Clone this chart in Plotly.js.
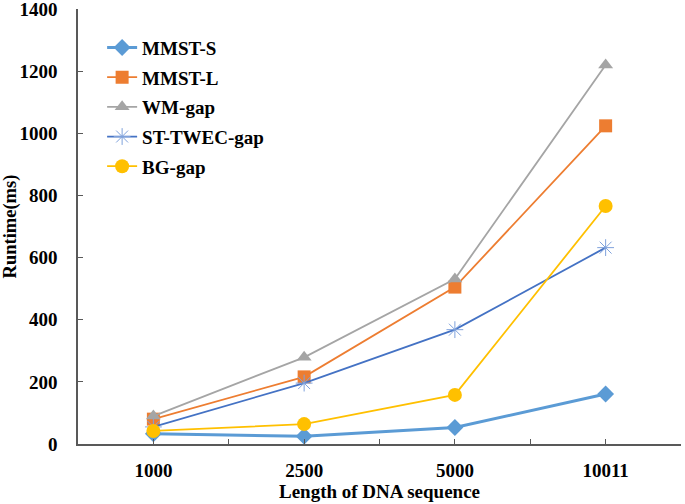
<!DOCTYPE html>
<html><head><meta charset="utf-8">
<script src="https://cdn.plot.ly/plotly-3.0.1.min.js"></script>
<style>body{margin:0;background:#fff}#c{width:685px;height:504px}</style>
</head><body><div id="c"></div>
<script>
const categories = ["1000", "2500", "5000", "10011"];
const mmstS = [33, 25, 53, 161];
const mmstL = [80, 216, 505, 1024];
const wmGap = [90, 279, 531, 1220];
const stTwecGap = [55, 196, 368, 632];
const bgGap = [42, 64, 158, 766];
const yTicks = [0, 200, 400, 600, 800, 1000, 1200, 1400];

const F = "Liberation Serif, Times New Roman, serif";
function tr(name, y, color, sym, msize, lw, mcolor) {
  return {x: categories, y: y, name: name, legendgroup: name, type: "scatter", mode: "lines+markers",
    line: {color: color, width: lw},
    marker: {symbol: sym, size: msize, color: mcolor || color,
      line: {color: mcolor || color, width: sym.indexOf("open") >= 0 ? 1 : 0}}};
}
const data = [
  tr("MMST-S", mmstS, "#5B9BD5", "diamond", 13, 3),
  tr("MMST-L", mmstL, "#ED7D31", "square", 13, 1.8),
  tr("WM-gap", wmGap, "#A5A5A5", "triangle-up", 13, 1.8),
  tr("ST-TWEC-gap", stTwecGap, "#4472C4", "asterisk-open", 14, 1.8, "#7FA2DC"),
  tr("BG-gap", bgGap, "#FFC000", "circle", 14, 1.8)
];
const layout = {
  width: 685, height: 504,
  margin: {l: 78, r: 4, t: 9, b: 60},
  paper_bgcolor: "#fff", plot_bgcolor: "#fff",
  font: {family: F, color: "#000", size: 19},
  showlegend: true,
  legend: {x: 0.04, y: 0.955, xanchor: "left", yanchor: "top", bgcolor: "rgba(0,0,0,0)",
    traceorder: "grouped", tracegroupgap: 2,
    font: {family: F, size: 19, color: "#000", weight: "bold"}, itemwidth: 30},
  xaxis: {type: "category", categoryorder: "array", categoryarray: categories,
    range: [-0.5, 3.5], showline: true, linecolor: "#595959", linewidth: 1.5,
    ticks: "inside", ticklen: 5, tickcolor: "#595959", showgrid: false, zeroline: false,
    tickfont: {family: F, size: 19, weight: "bold"}, ticklabelstandoff: 8,
    title: {text: "Length of DNA sequence", font: {family: F, size: 19, weight: "bold"}, standoff: 4}},
  xaxis2: {type: "category", categoryorder: "array", categoryarray: categories,
    overlaying: "x", matches: "x", range: [-0.5, 3.5], tickson: "boundaries",
    ticks: "inside", ticklen: 5, tickcolor: "#595959", showticklabels: false,
    showgrid: false, zeroline: false, showline: false, side: "bottom"},
  yaxis: {range: [0, 1400], tickvals: yTicks, showline: true, linecolor: "#595959", linewidth: 1.5,
    ticks: "inside", ticklen: 5, tickcolor: "#595959", showgrid: false, zeroline: false,
    ticklabeloverflow: "allow",
    tickfont: {family: F, size: 19, weight: "bold"}, ticklabelstandoff: 15,
    title: {text: "Runtime(ms)", font: {family: F, size: 18.5, weight: "bold"}, standoff: 8}}
};
data.push({x: categories, y: [null, null, null, null], xaxis: "x2", yaxis: "y", showlegend: false,
  hoverinfo: "skip", type: "scatter", mode: "lines"});
Plotly.newPlot("c", data, layout, {displayModeBar: false});
</script></body></html>
